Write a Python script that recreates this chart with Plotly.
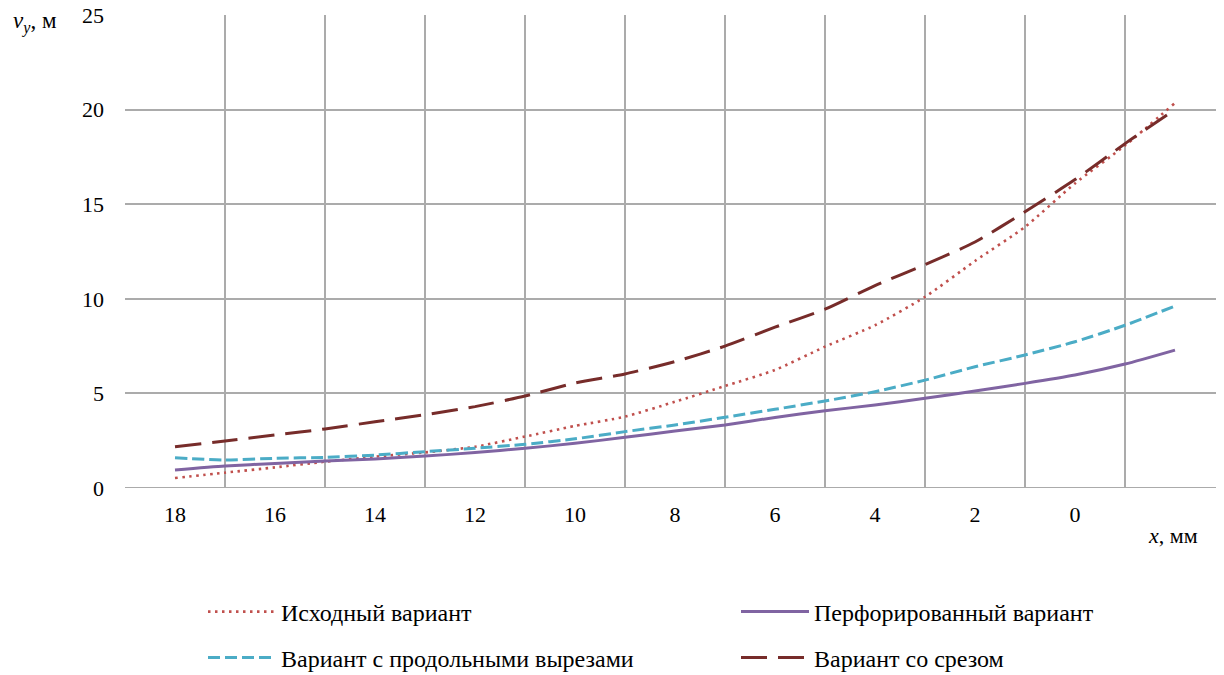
import plotly.graph_objects as go

# data
x_mm = [18, 17, 16, 15, 14, 13, 12, 11, 10, 9, 8, 7, 6, 5, 4, 3, 2, 1, 0, -1, -2]
v_iskh = [0.53, 0.81, 1.09, 1.39, 1.66, 1.88, 2.18, 2.72, 3.28, 3.77, 4.56, 5.39, 6.24, 7.47, 8.6, 10.1, 12.0, 13.8, 16.1, 18.1, 20.35]
v_perf = [0.95, 1.16, 1.3, 1.43, 1.53, 1.69, 1.87, 2.1, 2.36, 2.68, 3.01, 3.33, 3.73, 4.08, 4.39, 4.74, 5.13, 5.53, 5.97, 6.55, 7.29]
v_prod = [1.6, 1.48, 1.57, 1.62, 1.74, 1.92, 2.1, 2.31, 2.6, 2.98, 3.33, 3.74, 4.16, 4.6, 5.09, 5.7, 6.41, 7.03, 7.73, 8.6, 9.62]
v_srez = [2.18, 2.48, 2.8, 3.12, 3.5, 3.87, 4.3, 4.86, 5.55, 6.03, 6.68, 7.5, 8.5, 9.45, 10.7, 11.8, 13.0, 14.6, 16.3, 18.2, 20.0]

x_ticks = [18, 16, 14, 12, 10, 8, 6, 4, 2, 0]
x_grid = [19, 17, 15, 13, 11, 9, 7, 5, 3, 1, -1, -3]

names = ["Исходный вариант", "Перфорированный вариант",
         "Вариант с продольными вырезами", "Вариант со срезом"]
series = [v_iskh, v_perf, v_prod, v_srez]
colors = ["#C0504D", "#8064A2", "#4BACC6", "#772C2A"]
dashes = ["2.5px,4.5px", "solid", "12px,5px", "26px,11px"]
widths = [2.6, 3, 3, 3]
legends = ["legend", "legend2", "legend3", "legend4"]

FONT = "Liberation Serif"

fig = go.Figure()
for n, v, c, d, w, lg in zip(names, series, colors, dashes, widths, legends):
    fig.add_trace(go.Scatter(x=x_mm, y=v, mode="lines", name=n,
                             line=dict(color=c, dash=d, width=w, shape="spline", smoothing=0.6),
                             legend=lg))

leg_common = dict(font=dict(family=FONT, size=24, color="#000"), bgcolor="rgba(0,0,0,0)",
                  xref="container", yref="container", xanchor="left", yanchor="middle",
                  itemwidth=68)
fig.update_layout(
    width=1224, height=675,
    margin=dict(l=117, r=7, t=7, b=195, autoexpand=False),
    paper_bgcolor="white", plot_bgcolor="white",
    font=dict(family=FONT, size=22, color="#000"),
    showlegend=True,
    legend=dict(x=195 / 1224, y=1 - 604 / 675, **leg_common),
    legend2=dict(x=728 / 1224, y=1 - 604 / 675, **leg_common),
    legend3=dict(x=195 / 1224, y=1 - 650 / 675, **leg_common),
    legend4=dict(x=728 / 1224, y=1 - 650 / 675, **leg_common),
    xaxis=dict(range=[19, -3], tickmode="array", tickvals=x_ticks,
               ticktext=[str(t) for t in x_ticks], showgrid=False, zeroline=False,
               showline=False, ticks="", ticklabelstandoff=11,
               tickfont=dict(family=FONT, size=22, color="#000"),
               minor=dict(tickmode="array", tickvals=x_grid, showgrid=True,
                          gridcolor="#ABABAB", gridwidth=1.5, ticks="")),
    yaxis=dict(range=[0, 25], dtick=5, showgrid=True, gridcolor="#ABABAB", gridwidth=1.5,
               zeroline=False, showline=False, ticks="", ticklabelstandoff=20,
               ticklabeloverflow="allow",
               tickfont=dict(family=FONT, size=22, color="#000")),
    annotations=[
        dict(text="<i>v<sub>y</sub></i>, м", xref="paper", yref="paper", x=-0.104, y=0.985,
             xanchor="left", yanchor="middle", showarrow=False,
             font=dict(family=FONT, size=23, color="#000")),
        dict(text="<i>x</i>, мм", xref="paper", yref="paper", x=0.928, y=-0.1,
             xanchor="left", yanchor="middle", showarrow=False,
             font=dict(family=FONT, size=22, color="#000")),
    ],
)
fig.add_hline(y=0, line=dict(color="#ABABAB", width=2.2), layer="below")

fig.write_html("out.html")
